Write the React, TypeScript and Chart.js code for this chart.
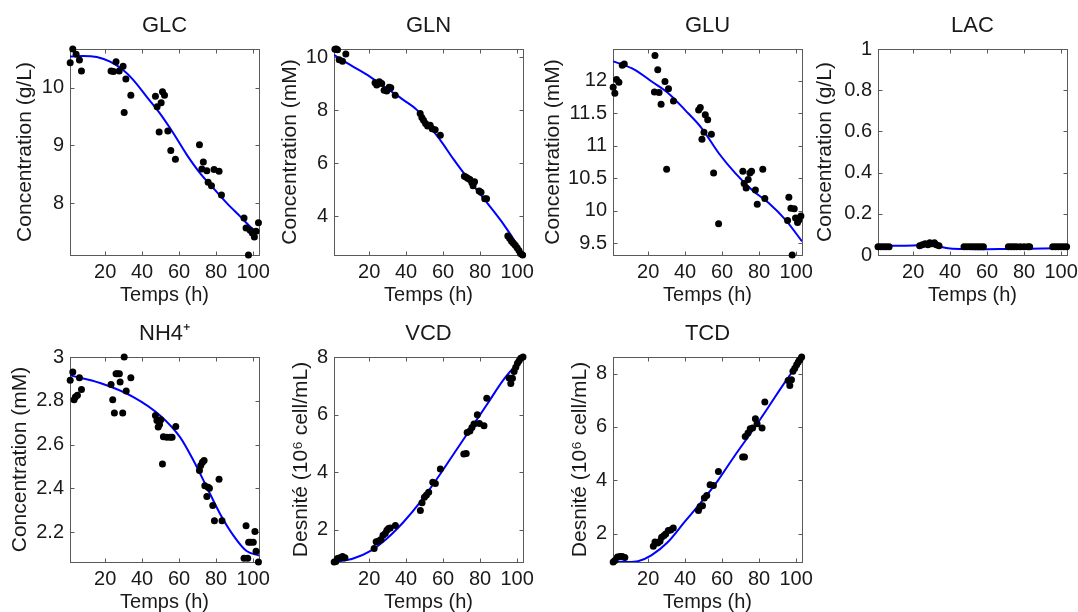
import React, { useEffect, useRef } from "react";
import { Chart, registerables } from "chart.js";

Chart.register(...registerables);

type Pt = [number, number];

// ---------- shared axis data ----------
const timeTicks = [20, 40, 60, 80, 100];
const timeMin = 1.0;
const timeMax = 103.2;
const timeLabel = "Temps (h)";

// ---------- GLC ----------
const glcObserved: Pt[] = [
  [1.1, 10.43], [2.5, 10.67], [4.3, 10.58], [6.1, 10.48], [7.2, 10.29],
  [23.2, 10.29], [24.5, 10.28], [25.9, 10.45], [27.6, 10.29], [29.7, 10.37], [30.3, 9.57], [31.2, 10.15], [33.9, 9.87],
  [47.2, 9.85], [48.1, 9.67], [49.2, 9.23], [50.3, 9.74], [51.0, 9.93], [52.1, 9.87], [53.9, 9.25], [55.5, 8.91], [58.0, 8.76],
  [71.0, 9.01], [72.3, 8.59], [73.1, 8.71], [75.0, 8.56], [75.7, 8.36], [77.5, 8.3], [78.9, 8.58], [81.6, 8.55], [82.9, 8.14],
  [95.1, 7.74], [96.2, 7.57], [97.5, 7.1], [98.4, 7.53], [99.6, 7.48], [100.7, 7.41], [101.6, 7.51], [102.9, 7.66],
];
const glcFit: Pt[] = [
  [1.0, 10.54], [8.0, 10.55], [15.5, 10.53], [22.7, 10.45], [29.9, 10.3], [35.3, 10.13], [42.5, 9.84],
  [49.7, 9.55], [56.9, 9.21], [64.1, 8.84], [71.3, 8.52], [78.5, 8.26], [85.8, 8.0], [93.0, 7.77], [100.2, 7.54], [103.2, 7.48],
];
const glcTicks = [8, 9, 10];

// ---------- GLN ----------
const glnObserved: Pt[] = [
  [1.5, 10.3], [2.2, 10.31], [2.9, 10.28], [3.8, 9.9], [5.6, 9.85], [7.4, 10.12],
  [23.2, 9.04], [24.1, 8.95], [25.5, 9.07], [26.8, 9.01], [28.1, 8.75], [29.5, 8.72], [30.8, 8.87], [31.7, 8.85], [34.1, 8.56],
  [47.6, 7.87], [48.5, 7.72], [49.4, 7.62], [50.5, 7.5], [51.6, 7.4], [53.0, 7.43], [54.1, 7.3], [55.7, 7.26], [58.5, 7.05],
  [71.5, 5.5], [72.5, 5.47], [73.5, 5.42], [74.5, 5.38], [75.5, 5.27], [76.2, 5.15], [77.0, 5.3], [79.5, 4.95], [80.5, 4.9], [82.5, 4.65], [83.5, 4.65],
  [95.0, 3.25], [96.0, 3.15], [97.0, 3.05], [98.0, 2.97], [99.0, 2.9], [100.0, 2.8], [101.0, 2.7], [102.0, 2.58], [103.0, 2.53],
];
const glnFit: Pt[] = [
  [1.0, 10.09], [10.0, 9.7], [20.4, 9.27], [30.0, 8.8], [38.5, 8.39], [45.8, 8.01], [51.2, 7.51], [58.4, 6.88],
  [65.7, 6.14], [74.7, 5.3], [83.8, 4.5], [92.8, 3.68], [100.0, 2.92], [103.2, 2.53],
];
const glnTicks = [4, 6, 8, 10];

// ---------- GLU ----------
const gluObserved: Pt[] = [
  [1.1, 11.9], [2.0, 11.81], [2.9, 12.02], [4.2, 11.98], [6.0, 12.24], [7.1, 12.26],
  [23.4, 11.83], [23.7, 12.39], [25.2, 12.17], [25.9, 11.82], [27.0, 11.64], [29.1, 11.99], [30.0, 10.64], [31.0, 11.88], [33.7, 11.69],
  [47.3, 11.55], [48.2, 11.59], [49.1, 11.1], [50.2, 11.21], [50.9, 11.48], [52.2, 11.4], [54.2, 11.18], [55.4, 10.58], [58.1, 9.8],
  [71.2, 10.61], [71.9, 10.42], [73.0, 10.35], [74.1, 10.48], [75.0, 10.58], [75.9, 10.61], [78.0, 10.32], [79.0, 10.1], [82.0, 10.64], [83.1, 10.19],
  [95.4, 9.85], [96.1, 10.21], [97.2, 10.04], [97.9, 9.32], [99.0, 10.03], [99.7, 9.89], [100.8, 9.82], [101.5, 9.86], [102.6, 9.92],
];
const gluFit: Pt[] = [
  [1.1, 12.3], [12.8, 12.17], [21.9, 11.99], [30.9, 11.81], [40.0, 11.55], [49.0, 11.27], [58.1, 10.89],
  [67.1, 10.58], [76.2, 10.32], [85.2, 10.12], [94.3, 9.86], [103.2, 9.53],
];
const gluTicks = [9.5, 10, 10.5, 11, 11.5, 12];

// ---------- LAC ----------
const lacObserved: Pt[] = [
  [1.0, 0.04], [2.5, 0.04], [4.0, 0.04], [5.5, 0.04], [7.0, 0.04],
  [23.5, 0.045], [25.0, 0.05], [26.5, 0.055], [28.0, 0.05], [29.0, 0.06], [30.0, 0.055], [31.5, 0.06], [32.5, 0.05], [34.0, 0.045],
  [47.5, 0.04], [49.0, 0.04], [50.5, 0.04], [52.0, 0.04], [53.5, 0.04], [55.0, 0.04], [56.5, 0.04], [58.0, 0.04],
  [71.5, 0.04], [73.0, 0.04], [74.5, 0.04], [76.0, 0.04], [78.0, 0.04], [80.0, 0.04], [82.0, 0.04], [83.0, 0.04],
  [95.5, 0.04], [97.0, 0.04], [98.5, 0.04], [100.0, 0.04], [101.5, 0.04], [103.0, 0.04],
];
const lacFit: Pt[] = [
  [1.0, 0.045], [10.0, 0.045], [20.0, 0.046], [25.0, 0.05], [28.5, 0.056], [32.0, 0.05], [36.0, 0.038],
  [40.0, 0.032], [50.0, 0.029], [60.0, 0.028], [70.0, 0.029], [80.0, 0.03], [90.0, 0.031], [103.2, 0.033],
];
const lacTicks = [0, 0.2, 0.4, 0.6, 0.8, 1];

// ---------- NH4+ ----------
const nh4Observed: Pt[] = [
  [1.1, 2.894], [2.5, 2.932], [3.2, 2.805], [3.9, 2.817], [5.0, 2.825], [6.1, 2.905], [7.2, 2.852],
  [23.2, 2.874], [24.1, 2.805], [25.0, 2.744], [25.9, 2.924], [26.6, 2.924], [27.7, 2.924], [28.1, 2.886], [29.5, 2.744], [30.3, 3.0], [31.4, 2.845], [33.9, 2.905],
  [47.2, 2.733], [48.0, 2.71], [48.7, 2.68], [49.4, 2.692], [50.1, 2.713], [51.0, 2.511], [51.5, 2.636], [53.3, 2.633], [55.1, 2.633], [56.2, 2.633], [58.2, 2.682],
  [71.0, 2.481], [71.7, 2.504], [72.6, 2.519], [73.5, 2.527], [73.9, 2.412], [75.0, 2.362], [75.7, 2.405], [76.4, 2.4], [78.2, 2.321], [79.1, 2.252], [81.6, 2.441], [83.2, 2.252],
  [95.1, 2.08], [96.2, 2.229], [97.1, 2.08], [97.6, 2.153], [98.7, 2.153], [100.1, 2.153], [101.0, 2.202], [101.6, 2.112], [102.9, 2.063],
];
const nh4Fit: Pt[] = [
  [1.1, 2.916], [17.3, 2.881], [35.3, 2.817], [49.7, 2.733], [60.5, 2.634], [67.7, 2.528], [74.9, 2.406],
  [82.1, 2.284], [89.3, 2.185], [96.5, 2.113], [103.2, 2.093],
];
const nh4Ticks = [2.2, 2.4, 2.6, 2.8, 3];

// ---------- VCD ----------
const vcdObserved: Pt[] = [
  [1.1, 0.88], [2.0, 0.9], [2.9, 1.0], [4.2, 1.03], [5.6, 1.07], [6.9, 1.03],
  [22.7, 1.35], [23.8, 1.58], [25.1, 1.61], [26.4, 1.66], [27.5, 1.81], [28.7, 1.87], [29.6, 1.98], [30.5, 2.04], [31.4, 2.06], [34.2, 2.15],
  [47.7, 2.67], [48.6, 2.94], [49.9, 3.13], [51.0, 3.21], [52.2, 3.3], [54.4, 3.65], [55.8, 3.61], [58.5, 4.11],
  [71.2, 4.63], [72.5, 4.65], [73.0, 5.38], [74.5, 5.43], [75.6, 5.55], [76.7, 5.67], [78.5, 5.99], [79.6, 5.69], [82.1, 5.61], [83.6, 6.57],
  [95.7, 7.27], [96.6, 7.08], [97.5, 7.26], [98.4, 7.5], [99.3, 7.64], [100.2, 7.78], [101.1, 7.87], [102.0, 7.96], [103.2, 8.0],
];
const vcdFit: Pt[] = [
  [1.1, 0.88], [11.4, 1.0], [20.5, 1.26], [29.5, 1.69], [38.6, 2.27], [47.6, 2.96], [56.7, 3.77],
  [65.7, 4.63], [74.8, 5.5], [83.8, 6.36], [92.9, 7.23], [103.2, 8.0],
];
const vcdTicks = [2, 4, 6, 8];

// ---------- TCD ----------
const tcdObserved: Pt[] = [
  [1.1, 0.94], [2.0, 1.0], [3.4, 1.13], [4.7, 1.15], [6.0, 1.15], [7.4, 1.11],
  [22.8, 1.53], [23.7, 1.69], [25.2, 1.65], [26.4, 1.72], [27.3, 1.87], [28.6, 1.93], [29.5, 1.99], [30.9, 2.12], [32.2, 2.14], [33.6, 2.21],
  [47.2, 2.87], [48.1, 3.02], [49.4, 3.05], [50.4, 3.34], [51.7, 3.43], [53.5, 3.83], [55.3, 3.81], [58.0, 4.33],
  [71.1, 4.87], [72.1, 4.87], [72.5, 5.64], [74.0, 5.77], [75.2, 5.93], [76.5, 5.96], [78.0, 6.31], [78.9, 6.12], [81.6, 5.96], [83.1, 6.93],
  [95.7, 7.74], [96.6, 7.55], [97.5, 7.77], [98.3, 8.09], [99.3, 8.2], [100.3, 8.33], [101.2, 8.43], [102.1, 8.52], [103.0, 8.62],
];
const tcdFit: Pt[] = [
  [1.0, 0.96], [5.0, 0.95], [9.0, 0.94], [14.5, 0.97], [21.7, 1.19], [30.7, 1.69], [39.7, 2.44], [48.8, 3.19],
  [57.8, 4.0], [66.9, 4.93], [75.9, 5.81], [85.0, 6.74], [94.0, 7.68], [103.1, 8.55],
];
const tcdTicks = [2, 4, 6, 8];

// ---------- styling / layout ----------
const FONT = '"Liberation Sans", Arial, Helvetica, sans-serif';
const TEXT = "#1a1a1a";
const FRAME = "#5a5a5a";
const FIT_COLOR = "#0000ff";
const TITLE_SIZE = 22;
const TICK_SIZE = 20;
const XLABEL_SIZE = 20;
const YLABEL_SIZE = 21;

const L = 80; // y-axis box width
const T = 49; // title box height
const R = 24; // right room
const B = 58; // x-axis box height
const PW = 189; // plot width

interface PanelSpec {
  id: string;
  title: string;
  yLabel: string;
  yMin: number;
  yMax: number;
  yTicks: number[];
  observed: Pt[];
  fit: Pt[];
  plotLeft: number;
  plotTop: number;
  plotH: number;
  yLabelGap: number; // distance from plot left edge to y-label centre
}

const panels: PanelSpec[] = [
  { id: "glc", title: "GLC", yLabel: "Concentration (g/L)", yMin: 7.1, yMax: 10.67, yTicks: glcTicks, observed: glcObserved, fit: glcFit, plotLeft: 70, plotTop: 49, plotH: 206, yLabelGap: 45 },
  { id: "gln", title: "GLN", yLabel: "Concentration (mM)", yMin: 2.53, yMax: 10.31, yTicks: glnTicks, observed: glnObserved, fit: glnFit, plotLeft: 334, plotTop: 49, plotH: 206, yLabelGap: 44 },
  { id: "glu", title: "GLU", yLabel: "Concentration (mM)", yMin: 9.32, yMax: 12.49, yTicks: gluTicks, observed: gluObserved, fit: gluFit, plotLeft: 613, plotTop: 49, plotH: 206, yLabelGap: 60 },
  { id: "lac", title: "LAC", yLabel: "Concentration (g/L)", yMin: 0, yMax: 1, yTicks: lacTicks, observed: lacObserved, fit: lacFit, plotLeft: 878, plotTop: 49, plotH: 206, yLabelGap: 53 },
  { id: "nh4", title: "NH4\u207A", yLabel: "Concentration (mM)", yMin: 2.063, yMax: 3.0, yTicks: nh4Ticks, observed: nh4Observed, fit: nh4Fit, plotLeft: 70, plotTop: 357, plotH: 205, yLabelGap: 50 },
  { id: "vcd", title: "VCD", yLabel: "Desnit\u00e9 (10\u2076 cell/mL)", yMin: 0.879, yMax: 8.0, yTicks: vcdTicks, observed: vcdObserved, fit: vcdFit, plotLeft: 334, plotTop: 357, plotH: 205, yLabelGap: 33 },
  { id: "tcd", title: "TCD", yLabel: "Desnit\u00e9 (10\u2076 cell/mL)", yMin: 0.94, yMax: 8.62, yTicks: tcdTicks, observed: tcdObserved, fit: tcdFit, plotLeft: 613, plotTop: 357, plotH: 205, yLabelGap: 33 },
];

// MATLAB-like box with inward ticks on all four sides
const framePlugin = {
  id: "matlabFrame",
  beforeDatasetsDraw(chart: any) {
    const { ctx, chartArea: a, scales } = chart;
    const xs = scales.x;
    const ys = scales.y;
    const left = Math.round(a.left) + 0.5;
    const right = Math.round(a.right) + 0.5;
    const top = Math.round(a.top) + 0.5;
    const bottom = Math.round(a.bottom) + 0.5;
    const tl = 4;
    ctx.save();
    ctx.strokeStyle = FRAME;
    ctx.lineWidth = 1;
    ctx.strokeRect(left, top, right - left, bottom - top);
    ctx.beginPath();
    for (const t of xs.ticks) {
      const px = Math.round(xs.getPixelForValue(t.value)) + 0.5;
      ctx.moveTo(px, bottom);
      ctx.lineTo(px, bottom - tl);
      ctx.moveTo(px, top);
      ctx.lineTo(px, top + tl);
    }
    for (const t of ys.ticks) {
      const py = Math.round(ys.getPixelForValue(t.value)) + 0.5;
      ctx.moveTo(left, py);
      ctx.lineTo(left + tl, py);
      ctx.moveTo(right, py);
      ctx.lineTo(right - tl, py);
    }
    ctx.stroke();
    ctx.restore();
  },
};

function Panel({ spec }: { spec: PanelSpec }) {
  const ref = useRef<HTMLCanvasElement | null>(null);
  const width = L + PW + R;
  const height = T + spec.plotH + B;

  useEffect(() => {
    if (!ref.current) return;
    const chart = new Chart(ref.current, {
      type: "scatter",
      data: {
        datasets: [
          {
            data: spec.observed.map(([x, y]) => ({ x, y })),
            showLine: false,
            pointRadius: 3.5,
            pointBackgroundColor: "#000000",
            pointBorderColor: "#000000",
            pointBorderWidth: 0,
            clip: false as any,
            order: 0,
          },
          {
            data: spec.fit.map(([x, y]) => ({ x, y })),
            showLine: true,
            pointRadius: 0,
            borderColor: FIT_COLOR,
            borderWidth: 2,
            cubicInterpolationMode: "monotone",
            fill: false,
            order: 1,
          },
        ],
      } as any,
      options: {
        responsive: false,
        maintainAspectRatio: false,
        animation: false,
        events: [],
        devicePixelRatio: 1,
        layout: { padding: { left: 0, right: R, top: 0, bottom: 0 } },
        plugins: {
          legend: { display: false },
          tooltip: { enabled: false },
          title: {
            display: true,
            text: spec.title,
            fullSize: false,
            color: TEXT,
            font: { family: FONT, size: TITLE_SIZE, weight: "normal" as any },
            padding: { top: 12.3, bottom: 10.3 },
          },
        },
        scales: {
          x: {
            type: "linear",
            position: "bottom",
            min: timeMin,
            max: timeMax,
            grid: { display: false, drawTicks: false },
            border: { display: false },
            ticks: {
              color: TEXT,
              font: { family: FONT, size: TICK_SIZE },
              padding: 5.5,
              maxRotation: 0,
              minRotation: 0,
              autoSkip: false,
              callback: (v: any) => String(v),
            },
            afterBuildTicks: (s: any) => {
              s.ticks = timeTicks.map((v) => ({ value: v }));
            },
            afterFit: (s: any) => {
              s.height = B;
            },
            title: {
              display: true,
              text: timeLabel,
              color: TEXT,
              font: { family: FONT, size: XLABEL_SIZE },
              padding: { top: 0, bottom: 5.5 },
            },
          },
          y: {
            type: "linear",
            position: "left",
            min: spec.yMin,
            max: spec.yMax,
            grid: { display: false, drawTicks: false },
            border: { display: false },
            ticks: {
              color: TEXT,
              font: { family: FONT, size: TICK_SIZE },
              padding: 6,
              autoSkip: false,
              callback: (v: any) => String(v),
            },
            afterBuildTicks: (s: any) => {
              s.ticks = spec.yTicks.map((v) => ({ value: v }));
            },
            afterFit: (s: any) => {
              s.width = L;
            },
            title: {
              display: true,
              text: spec.yLabel,
              color: TEXT,
              font: { family: FONT, size: YLABEL_SIZE },
              padding: { top: L - spec.yLabelGap - (YLABEL_SIZE * 1.2) / 2, bottom: 0 },
            },
          },
        },
      } as any,
      plugins: [framePlugin],
    });
    return () => chart.destroy();
  }, [spec]);

  return (
    <canvas
      ref={ref}
      width={width}
      height={height}
      style={{
        position: "absolute",
        left: spec.plotLeft - L,
        top: spec.plotTop - T,
        width,
        height,
        display: "block",
      }}
    />
  );
}

export default function App() {
  return (
    <div
      style={{
        position: "absolute",
        left: 0,
        top: 0,
        width: 1078,
        height: 612,
        overflow: "hidden",
        background: "#ffffff",
      }}
    >
      {panels.map((p) => (
        <Panel key={p.id} spec={p} />
      ))}
    </div>
  );
}
